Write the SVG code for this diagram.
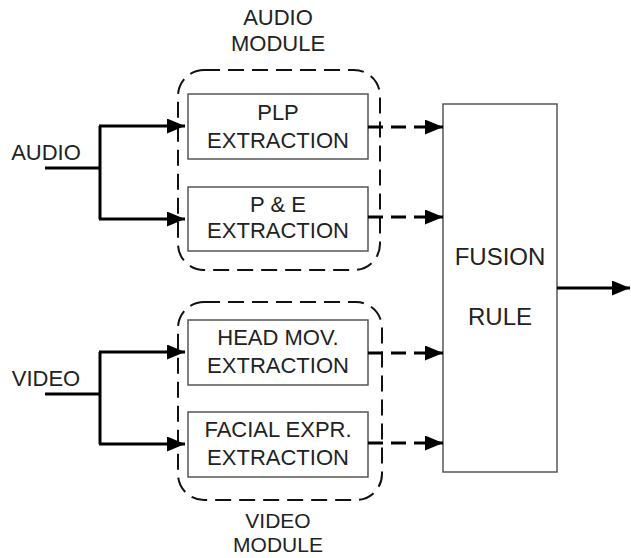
<svg xmlns="http://www.w3.org/2000/svg" width="631" height="558" viewBox="0 0 631 558">
<style>
text{font-family:"Liberation Sans",Arial,sans-serif;font-size:22px;fill:#222;text-anchor:middle}
.big{font-size:24px}
.sm{font-size:21px}
.box{fill:#fff;stroke:#555;stroke-width:1.5}
.mod{fill:none;stroke:#111;stroke-width:2;stroke-dasharray:16 8}
.solid{fill:none;stroke:#000;stroke-width:3}
.dash{fill:none;stroke:#000;stroke-width:3;stroke-dasharray:15 8}
</style>
<defs>
<marker id="ah" markerWidth="6" markerHeight="5" refX="6" refY="2.5" orient="auto" markerUnits="strokeWidth">
<path d="M0,0 L6,2.5 L0,5 Z" fill="#000"/>
</marker>
</defs>
<g id="audio-module">
<rect class="mod" x="178" y="70" width="202" height="200" rx="26"/>
<text x="278" y="25">AUDIO</text>
<text x="278" y="51">MODULE</text>
</g>
<g id="video-module">
<rect class="mod" x="178" y="302" width="204" height="198" rx="26"/>
<text class="sm" x="278" y="528">VIDEO</text>
<text class="sm" x="278" y="552">MODULE</text>
</g>
<g id="audio-label"><text x="46" y="160">AUDIO</text></g>
<g id="video-label"><text x="46" y="386">VIDEO</text></g>
<g id="plp">
<rect class="box" x="188" y="94" width="180" height="65"/>
<text x="278" y="120">PLP</text>
<text x="278" y="148">EXTRACTION</text>
</g>
<g id="pe">
<rect class="box" x="188" y="187" width="180" height="64"/>
<text x="278" y="212">P &amp; E</text>
<text x="278" y="238">EXTRACTION</text>
</g>
<g id="head">
<rect class="box" x="188" y="320" width="180" height="65"/>
<text x="278" y="345">HEAD MOV.</text>
<text x="278" y="373">EXTRACTION</text>
</g>
<g id="facial">
<rect class="box" x="188" y="412" width="180" height="65"/>
<text x="278" y="437">FACIAL EXPR.</text>
<text x="278" y="465">EXTRACTION</text>
</g>
<g id="fusion">
<rect class="box" x="443" y="104" width="114" height="368"/>
<text class="big" x="500" y="265">FUSION</text>
<text class="big" x="500" y="325">RULE</text>
</g>
<g id="connectors">
<path class="solid" d="M45,168 H100 M100,126 V219"/>
<path class="solid" d="M99,126 H185" marker-end="url(#ah)"/>
<path class="solid" d="M99,219 H185" marker-end="url(#ah)"/>
<path class="solid" d="M45,394 H100 M100,352 V444"/>
<path class="solid" d="M99,352 H185" marker-end="url(#ah)"/>
<path class="solid" d="M99,444 H185" marker-end="url(#ah)"/>
<path class="dash" d="M368,127 H443" marker-end="url(#ah)"/>
<path class="dash" d="M368,217 H443" marker-end="url(#ah)"/>
<path class="dash" d="M368,353 H443" marker-end="url(#ah)"/>
<path class="dash" d="M368,443 H443" marker-end="url(#ah)"/>
<path class="solid" d="M557,288 H630" marker-end="url(#ah)"/>
</g>
</svg>
